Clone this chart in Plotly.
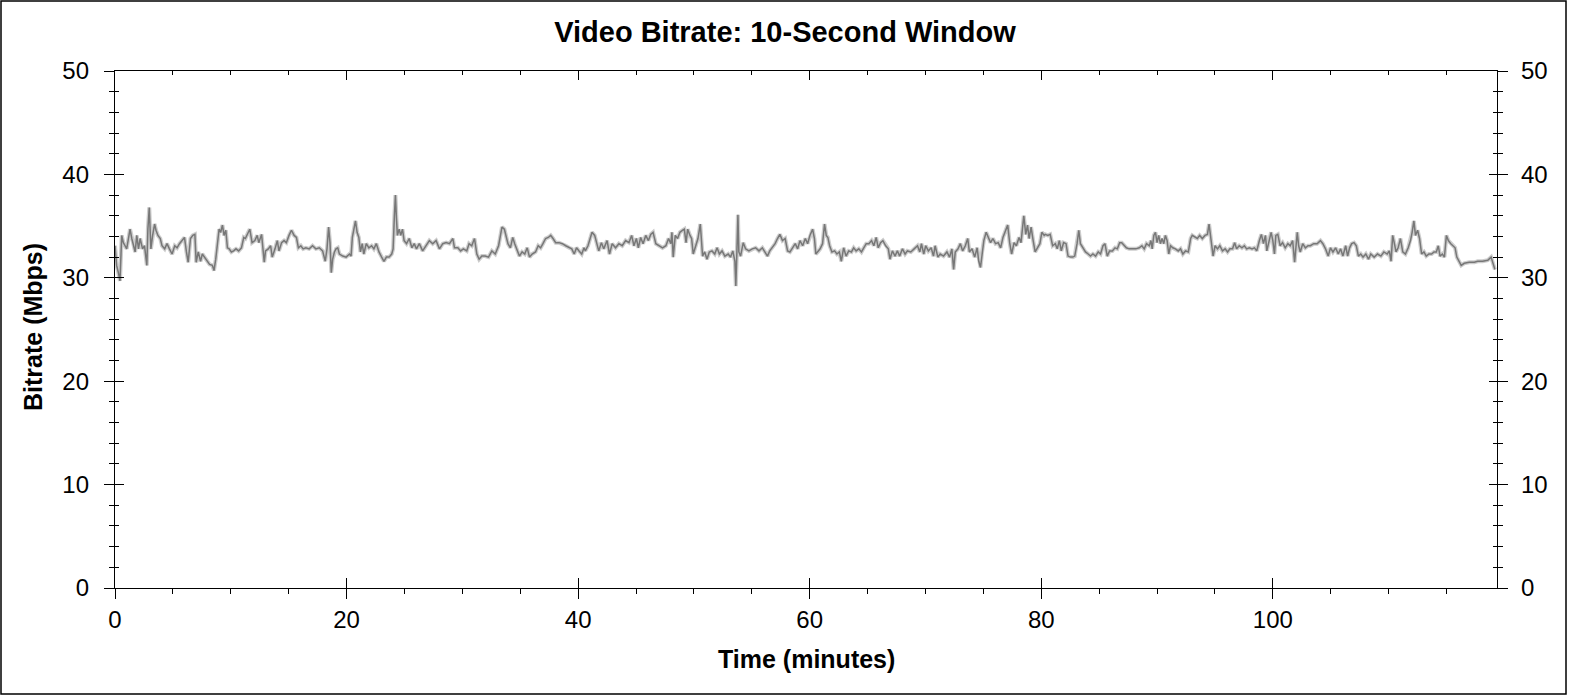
import plotly.graph_objects as go

# ---- data (time in minutes, bitrate in Mbps) ----
minutes = [
    0.00, 0.14, 0.29, 0.43, 0.58, 0.72, 0.87, 1.01, 1.30, 1.45, 1.74, 1.88, 2.03, 2.17, 2.38, 2.55,
    2.75, 2.84, 2.96, 3.10, 3.25, 3.42, 3.54, 3.71, 3.91, 4.06, 4.29, 4.49, 4.70, 4.93, 5.16, 5.36,
    5.57, 5.80, 6.00, 6.17, 6.32, 6.52, 6.72, 6.90, 7.01, 7.19, 7.39, 7.54, 7.74, 7.97, 8.17, 8.41,
    8.55, 8.70, 8.84, 8.99, 9.13, 9.28, 9.42, 9.57, 9.71, 9.86, 10.05, 10.25, 10.45, 10.68, 10.92,
    11.12, 11.26, 11.50, 11.64, 11.84, 12.08, 12.28, 12.42, 12.66, 12.77, 12.89, 13.00, 13.24, 13.44,
    13.58, 13.82, 14.02, 14.16, 14.39, 14.60, 14.80, 15.03, 15.24, 15.47, 15.67, 15.84, 16.05, 16.25,
    16.48, 16.77, 17.06, 17.35, 17.64, 17.93, 18.16, 18.31, 18.45, 18.57, 18.68, 18.80, 18.95, 19.09,
    19.24, 19.38, 19.67, 19.96, 20.25, 20.39,
    20.50, 20.77, 20.91, 21.06, 21.20, 21.35, 21.49, 21.70, 21.93, 22.16, 22.36, 22.57, 22.80, 23.03,
    23.23, 23.44, 23.67, 23.90, 24.02, 24.13, 24.22, 24.31, 24.39, 24.54, 24.68, 24.83, 24.97, 25.18,
    25.41, 25.64, 25.84, 26.04, 26.28, 26.57, 26.86, 27.15, 27.44, 27.73, 28.02, 28.31, 28.60, 28.89,
    29.18, 29.32, 29.61, 29.85, 30.09, 30.38, 30.58, 30.81, 31.05, 31.25, 31.45, 31.68, 31.97, 32.26,
    32.55, 32.84, 33.13, 33.28, 33.42, 33.63, 33.77, 33.94, 34.15, 34.35, 34.52, 34.73, 34.93, 35.16,
    35.39, 35.60, 35.80, 36.03, 36.32, 36.55, 36.76, 36.96, 37.19, 37.42, 37.63, 37.83, 38.06, 38.35,
    38.64, 38.93, 39.22, 39.45, 39.66, 39.86, 40.08, 40.31, 40.51,
    40.62, 40.85, 41.05, 41.20, 41.43, 41.63, 41.78, 42.01, 42.21, 42.50, 42.71, 42.94, 43.23, 43.52,
    43.81, 44.10, 44.39, 44.62, 44.82, 45.03, 45.20, 45.40, 45.61, 45.84, 46.07, 46.27, 46.47, 46.71,
    47.00, 47.29, 47.58, 47.81, 48.01, 48.10, 48.21, 48.39, 48.59, 48.79, 49.03, 49.17, 49.32, 49.46,
    49.66, 49.80, 49.94, 50.12, 50.35, 50.55, 50.64, 50.75, 50.93, 51.13, 51.33, 51.56, 51.80, 52.00,
    52.20, 52.43, 52.67, 52.96, 53.16, 53.36, 53.54, 53.62, 53.71, 53.80, 53.88, 54.03, 54.26, 54.46,
    54.75, 55.04, 55.33, 55.62, 55.91, 56.14, 56.35, 56.55, 56.78, 57.01, 57.22, 57.42, 57.65, 57.88,
    58.09, 58.29, 58.52, 58.75, 58.96, 59.16, 59.39, 59.62, 59.82, 60.02, 60.25,
    60.41, 60.53, 60.70, 60.90, 61.11, 61.28, 61.43, 61.57, 61.72, 61.92, 62.15, 62.35, 62.56, 62.73,
    62.93, 63.14, 63.37, 63.60, 63.80, 64.01, 64.24, 64.47, 64.67, 64.88, 65.11, 65.34, 65.54, 65.74,
    65.92, 66.12, 66.32, 66.56, 66.79, 66.93, 67.14, 67.37, 67.57, 67.77, 68.01, 68.24, 68.44, 68.73,
    69.02, 69.31, 69.51, 69.65, 69.85, 70.02, 70.25, 70.49, 70.69, 70.83, 71.07, 71.27, 71.56, 71.85,
    72.08, 72.28, 72.43, 72.57, 72.81, 73.01, 73.21, 73.44, 73.65, 73.79, 74.02, 74.25, 74.46, 74.60,
    74.75, 74.89, 75.04, 75.24, 75.41, 75.62, 75.82, 76.05, 76.28, 76.49, 76.69, 76.92, 77.10, 77.27,
    77.44, 77.65, 77.85, 78.08, 78.25, 78.37, 78.49, 78.66, 78.81, 78.95, 79.12, 79.30, 79.47, 79.67,
    79.88, 80.05, 80.25,
    80.34, 80.57, 80.77, 80.98, 81.21, 81.38, 81.56, 81.73, 81.93, 82.14, 82.31, 82.51, 82.72, 82.89,
    83.09, 83.24, 83.38, 83.59, 83.82, 84.05, 84.25, 84.46, 84.69, 84.92, 85.12, 85.33, 85.50, 85.70,
    85.90, 86.14, 86.37, 86.57, 86.77, 86.95, 87.15, 87.35, 87.59, 87.88, 88.17, 88.46, 88.69, 88.89,
    89.09, 89.33, 89.47, 89.58, 89.72, 89.86, 90.00, 90.14, 90.29, 90.43, 90.58, 90.72, 90.87, 91.01,
    91.16, 91.36, 91.59, 91.83, 92.03, 92.23, 92.46, 92.70, 92.90, 93.04, 93.28, 93.48, 93.68, 93.91,
    94.14, 94.35, 94.49, 94.58, 94.70, 94.84, 95.01, 95.22, 95.42, 95.65, 95.88, 96.09, 96.29, 96.52,
    96.70, 96.87, 97.10, 97.33, 97.54, 97.74, 97.97, 98.20, 98.41, 98.61, 98.84, 99.01, 99.19, 99.36,
    99.48, 99.65, 99.85, 100.00, 100.14,
    100.26, 100.43, 100.63, 100.84, 101.07, 101.30, 101.50, 101.71, 101.88, 102.00, 102.11, 102.23,
    102.37, 102.58, 102.81, 103.04, 103.24, 103.53, 103.82, 104.11, 104.32, 104.55, 104.78, 104.98,
    105.19, 105.42, 105.65, 105.85, 106.05, 106.29, 106.46, 106.63, 106.81, 107.01, 107.21, 107.39,
    107.59, 107.79, 108.03, 108.26, 108.46, 108.75, 109.04, 109.33, 109.59, 109.88, 110.06, 110.21,
    110.35, 110.50, 110.64, 110.82, 111.02, 111.22, 111.45, 111.69, 111.89, 112.03, 112.18, 112.32,
    112.50, 112.67, 112.85, 113.05, 113.25, 113.48, 113.71, 113.92, 114.12, 114.29, 114.44, 114.64,
    114.82, 114.99, 115.16, 115.37, 115.57, 115.74, 115.89, 116.09, 116.27, 116.53, 116.96, 117.40,
    117.69, 118.12, 118.56, 118.85, 119.06, 119.18,
]

mbps = [
    33.1, 31.2, 30.5, 29.7, 34.1, 33.4, 33.1, 32.8, 34.7, 33.8, 32.5, 34.1, 32.8, 33.8, 32.8, 33.1,
    31.2, 34.7, 36.8, 32.8, 34.1, 35.2, 34.6, 34.1, 33.8, 33.1, 32.8, 33.3, 32.8, 32.3, 33.1, 32.9,
    33.3, 33.6, 33.9, 32.5, 31.5, 33.8, 34.1, 34.2, 31.5, 32.5, 31.6, 32.3, 32.0, 31.6, 31.3, 31.2,
    30.7, 31.8, 33.3, 34.7, 34.4, 35.1, 34.1, 34.6, 32.9, 32.8, 32.5, 32.6, 32.8, 32.6, 32.9,
    33.9, 33.8, 34.4, 34.7, 33.4, 33.6, 34.1, 33.4, 34.2, 33.1, 31.5, 32.6, 32.8, 33.1,
    32.0, 32.8, 33.6, 32.6, 33.4, 33.6, 33.4, 34.1, 34.6, 34.1, 33.9, 32.9, 33.1, 32.8,
    32.9, 32.8, 33.1, 32.8, 32.9, 32.6, 31.6, 32.8, 34.9, 33.4, 30.5, 31.8, 32.5, 32.8,
    32.9, 32.3, 32.1, 32.0, 32.3, 32.1,
    33.9, 35.5, 34.4, 33.9, 32.5, 33.3, 32.3, 33.3, 32.9, 33.1, 32.8, 33.3, 32.5, 32.0,
    31.6, 32.0, 32.0, 32.3, 32.8, 36.0, 38.0, 35.7, 34.1, 34.7, 34.1, 34.7, 33.6, 33.3,
    33.8, 32.9, 33.3, 32.8, 33.3, 32.6, 33.1, 33.6, 33.3, 33.6, 32.8, 33.3, 33.4, 33.3,
    33.8, 32.9, 32.9, 32.6, 32.8, 32.6, 33.3, 33.1, 33.8, 32.3, 31.8, 32.1, 32.1, 32.0,
    32.6, 32.3, 33.1, 34.1, 34.9, 34.7, 34.1, 33.3, 32.9, 33.9, 33.3, 32.6, 32.1, 32.5,
    32.3, 32.9, 32.0, 32.3, 32.5, 33.1, 32.9, 33.3, 33.8, 33.9, 34.1, 33.8, 33.4, 33.4,
    33.3, 33.1, 32.9, 32.8, 32.3, 32.9, 32.6, 32.3, 32.9,
    32.6, 33.1, 33.8, 34.4, 34.1, 33.1, 32.6, 33.4, 32.8, 33.6, 32.3, 33.3, 32.9, 33.3,
    33.1, 33.6, 33.4, 34.1, 33.1, 33.8, 32.9, 33.9, 33.3, 34.1, 33.6, 34.2, 34.4, 33.3,
    33.1, 32.9, 33.1, 33.8, 33.3, 34.4, 32.0, 34.1, 33.8, 34.4, 34.6, 34.7, 33.4, 34.7,
    34.1, 33.8, 32.3, 32.9, 33.8, 35.2, 33.8, 32.1, 32.5, 31.8, 32.5, 32.6, 32.3, 32.9,
    32.3, 32.6, 32.1, 32.3, 32.0, 32.6, 31.6, 29.2, 32.5, 36.1, 32.5, 32.1, 33.4, 32.8,
    32.6, 32.8, 32.9, 32.6, 32.9, 32.5, 32.1, 32.6, 32.9, 33.3, 33.8, 34.2, 33.6, 33.8,
    32.6, 32.5, 32.9, 33.3, 32.8, 33.6, 33.1, 33.8, 33.3, 34.1, 34.7,
    33.8, 32.3, 32.5, 32.8, 33.3, 35.2, 34.1, 33.9, 33.1, 32.5, 32.6, 32.3, 32.5, 31.6,
    32.9, 32.1, 32.6, 32.5, 32.9, 32.6, 32.8, 32.5, 32.9, 33.3, 33.3, 33.6, 33.1, 33.9,
    32.9, 33.4, 33.6, 33.1, 32.8, 31.8, 32.6, 32.1, 32.6, 32.1, 32.8, 32.3, 32.6, 32.5,
    32.8, 33.1, 32.5, 33.3, 32.3, 33.1, 32.6, 32.9, 32.1, 33.1, 32.0, 32.3, 32.1, 32.5,
    32.0, 32.8, 30.8, 32.5, 32.8, 33.3, 32.6, 33.1, 33.8, 32.5, 32.8, 32.0, 32.9, 31.6,
    31.0, 32.5, 33.6, 34.4, 33.9, 33.4, 33.8, 33.3, 33.4, 32.9, 33.9, 34.7, 35.1, 33.4,
    32.3, 33.4, 33.1, 33.9, 33.4, 34.7, 36.0, 34.2, 35.1, 33.8, 34.9, 33.6, 32.5, 32.9,
    33.3, 34.4, 34.1,
    34.2, 34.1, 34.2, 33.1, 33.3, 32.8, 33.6, 32.6, 33.4, 33.3, 32.1, 32.0, 32.0, 32.1,
    33.3, 34.6, 33.3, 32.9, 32.5, 32.3, 32.1, 32.3, 32.1, 32.5, 32.3, 33.1, 33.3, 32.1,
    32.6, 32.6, 32.9, 32.8, 33.4, 33.4, 33.1, 32.9, 32.8, 32.8, 32.8, 32.9, 33.1, 32.8,
    33.3, 33.1, 33.6, 32.8, 34.1, 34.4, 33.4, 34.1, 33.3, 33.8, 33.3, 34.1, 33.6, 32.3,
    33.1, 32.9, 32.8, 32.6, 32.8, 32.3, 32.6, 32.5, 33.8, 34.1, 33.9, 33.8, 34.1, 33.8,
    34.1, 34.2, 35.2, 34.4, 33.4, 32.1, 33.1, 32.8, 33.1, 32.6, 32.8, 32.5, 32.8, 32.8,
    33.4, 32.8, 33.1, 32.9, 33.1, 32.8, 32.9, 32.8, 32.9, 32.6, 33.6, 34.2, 33.3, 34.1,
    32.6, 33.6, 34.4, 33.6, 32.3,
    34.1, 34.2, 33.1, 33.4, 32.9, 33.3, 33.1, 33.6, 31.5, 32.8, 34.4, 33.1,
    32.5, 33.3, 32.9, 33.1, 33.1, 33.3, 33.3, 33.6, 33.3, 32.8, 32.1, 32.9,
    32.5, 32.9, 32.3, 32.8, 32.1, 33.1, 32.1, 32.9, 33.3, 33.4, 33.1, 32.1,
    32.3, 32.0, 32.3, 31.8, 32.3, 32.0, 32.3, 32.1, 32.5, 32.3, 32.6, 31.6,
    34.1, 33.3, 32.5, 32.9, 33.8, 32.5, 32.3, 32.9, 33.6, 34.4, 35.5, 34.1,
    34.6, 33.8, 32.3, 32.5, 32.1, 32.3, 32.3, 32.5, 32.5, 33.1, 32.1, 32.3,
    32.0, 34.1, 33.6, 33.3, 33.1, 32.9, 32.0, 31.5, 31.2, 31.4, 31.5, 31.5,
    31.6, 31.6, 31.7, 32.0, 31.3, 30.8,
]

x_ticks = [0, 20, 40, 60, 80, 100]
y_ticks = [0, 10, 20, 30, 40, 50]
x_max = 119.36
y_max = 50

TITLE = "Video Bitrate: 10-Second Window"
X_TITLE = "Time (minutes)"
Y_TITLE = "Bitrate (Mbps)"

FONT = "Liberation Sans, Arial, sans-serif"
W, H = 1570, 695
ML, MR, MT, MB = 115, 73, 71, 107
PW, PH = W - ML - MR, H - MT - MB

fig = go.Figure()

# light halo under the line (anti-aliased look of the reference)
fig.add_trace(go.Scatter(x=minutes, y=mbps, mode="lines",
                         line=dict(color="#cdcdcd", width=4),
                         hoverinfo="skip", showlegend=False))
fig.add_trace(go.Scatter(x=minutes, y=mbps, mode="lines",
                         line=dict(color="#777777", width=1.5),
                         showlegend=False))

# empty traces so the overlay axes (extra tick sets) are drawn
for xa, ya in [("x2", "y"), ("x3", "y"), ("x", "y2"), ("x", "y3"), ("x", "y4")]:
    fig.add_trace(go.Scatter(x=[None], y=[None], xaxis=xa, yaxis=ya,
                             showlegend=False, hoverinfo="skip"))

tickfont = dict(family=FONT, size=24, color="black")
common = dict(showgrid=False, zeroline=False, tickcolor="black", tickwidth=1.3)

fig.update_layout(
    width=W, height=H,
    margin=dict(l=ML, r=MR, t=MT, b=MB, pad=0),
    paper_bgcolor="white", plot_bgcolor="white",
    font=dict(family=FONT, color="black"),
    title=dict(text="<b>%s</b>" % TITLE, x=0.5, xref="container", xanchor="center",
               y=1 - 32 / H, yref="container", yanchor="middle",
               font=dict(family=FONT, size=29, color="black")),
    xaxis=dict(range=[0, x_max], tickmode="array", tickvals=x_ticks,
               ticktext=[str(v) for v in x_ticks], ticks="outside", ticklen=10,
               showline=True, linecolor="black", linewidth=1.3,
               minor=dict(ticks="outside", ticklen=5, dtick=5, tick0=0,
                          tickcolor="black", tickwidth=1.3),
               tickfont=tickfont, ticklabelstandoff=0, **common),
    xaxis2=dict(range=[0, x_max], overlaying="x", anchor="y", side="bottom",
                tickmode="array", tickvals=x_ticks, ticks="inside", ticklen=10,
                showticklabels=False, showline=False, **common),
    xaxis3=dict(range=[0, x_max], overlaying="x", anchor="y", side="top",
                tickmode="array", tickvals=x_ticks, ticks="inside", ticklen=9,
                showticklabels=False, showline=True, linecolor="black", linewidth=1.3,
                minor=dict(ticks="inside", ticklen=4, dtick=5, tick0=0,
                           tickcolor="black", tickwidth=1.3), **common),
    yaxis=dict(range=[0, y_max], tickmode="array", tickvals=y_ticks,
               ticktext=[str(v) for v in y_ticks], ticks="outside", ticklen=10,
               showline=True, linecolor="black", linewidth=1.3,
               minor=dict(ticks="outside", ticklen=5, dtick=2, tick0=0,
                          tickcolor="black", tickwidth=1.3),
               tickfont=tickfont, ticklabelstandoff=10, **common),
    yaxis2=dict(range=[0, y_max], overlaying="y", anchor="x", side="left",
                tickmode="array", tickvals=y_ticks, ticks="inside", ticklen=9,
                showticklabels=False, showline=False,
                minor=dict(ticks="inside", ticklen=4, dtick=2, tick0=0,
                           tickcolor="black", tickwidth=1.3), **common),
    yaxis3=dict(range=[0, y_max], overlaying="y", anchor="x", side="right",
                tickmode="array", tickvals=y_ticks,
                ticktext=[str(v) for v in y_ticks], ticks="outside", ticklen=10,
                showline=True, linecolor="black", linewidth=1.3,
                minor=dict(ticks="outside", ticklen=5, dtick=2, tick0=0,
                           tickcolor="black", tickwidth=1.3),
                tickfont=tickfont, ticklabelstandoff=8, **common),
    yaxis4=dict(range=[0, y_max], overlaying="y", anchor="x", side="right",
                tickmode="array", tickvals=y_ticks, ticks="inside", ticklen=8,
                showticklabels=False, showline=False,
                minor=dict(ticks="inside", ticklen=4, dtick=2, tick0=0,
                           tickcolor="black", tickwidth=1.3), **common),
    annotations=[
        dict(text="<b>%s</b>" % X_TITLE, xref="paper", yref="paper",
             x=0.5, y=(MT + PH - 659) / PH, xanchor="center", yanchor="middle",
             showarrow=False, font=dict(family=FONT, size=25, color="black")),
        dict(text="<b>%s</b>" % Y_TITLE, xref="paper", yref="paper",
             x=(33 - ML) / PW, y=(MT + PH - 327) / PH, xanchor="center", yanchor="middle",
             textangle=-90, showarrow=False,
             font=dict(family=FONT, size=25, color="black")),
    ],
    shapes=[
        dict(type="rect", xref="paper", yref="paper",
             x0=(1 - ML) / PW, x1=(1566 - ML) / PW,
             y0=(MT + PH - 694) / PH, y1=(MT + PH - 1) / PH,
             line=dict(color="black", width=1.5), fillcolor="rgba(0,0,0,0)", layer="below"),
    ],
    showlegend=False,
    hovermode="closest",
)

fig.write_html("out.html", config={"displayModeBar": False},
               post_script="document.body.style.margin='0';document.body.style.padding='0';")
